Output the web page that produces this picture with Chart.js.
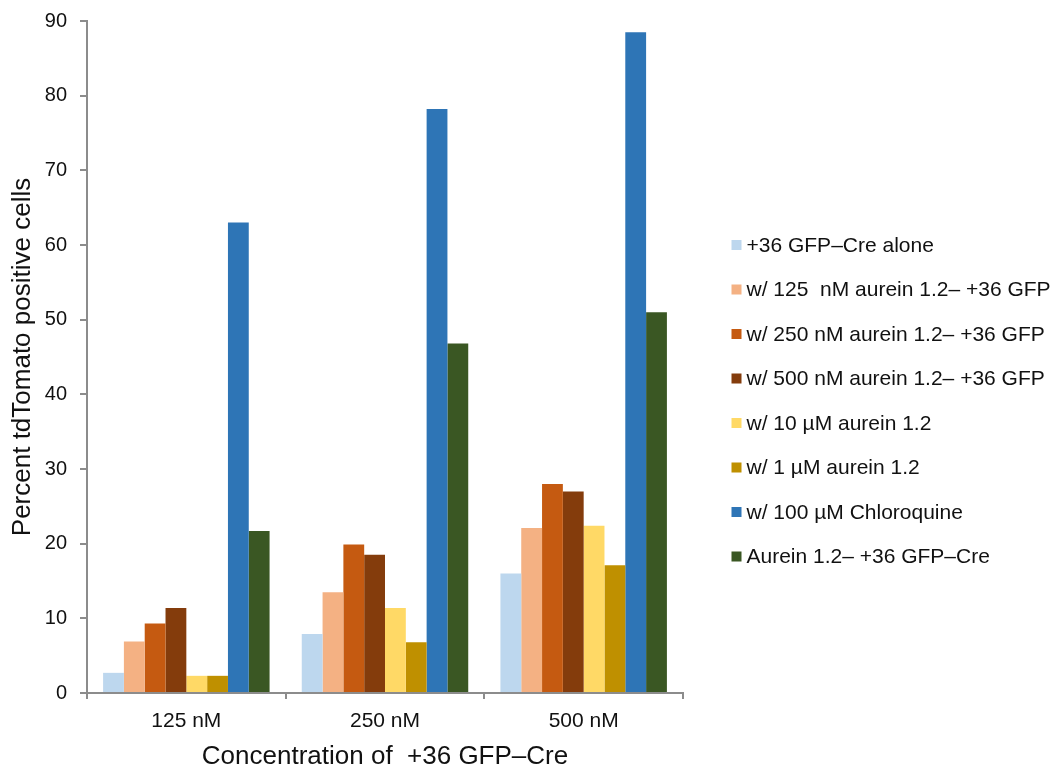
<!DOCTYPE html>
<html>
<head>
<meta charset="utf-8">
<script src="https://cdn.jsdelivr.net/npm/chart.js@4.4.1/dist/chart.umd.min.js"></script>
<style>
  html, body { margin: 0; padding: 0; background: #ffffff; }
  #wrap { width: 1052px; height: 770px; position: relative; }
</style>
</head>
<body>
<div id="wrap"><canvas id="chart"></canvas></div>
<script>
// Categories on the x axis
const categories = ['125 nM', '250 nM', '500 nM'];

// Percent tdTomato positive cells per treatment
const gfpCreAlone      = [2.7, 7.9, 16.0];
const aurein125nM      = [6.9, 13.5, 22.1];
const aurein250nM      = [9.3, 19.9, 28.0];
const aurein500nM      = [11.4, 18.5, 27.0];
const aurein10uM       = [2.3, 11.4, 22.4];
const aurein1uM        = [2.3, 6.8, 17.1];
const chloroquine100uM = [63.0, 78.2, 88.5];
const aureinFusion     = [21.7, 46.8, 51.0];

const seriesLabels = [
  '+36 GFP\u2013Cre alone',
  'w/ 125  nM aurein 1.2\u2013 +36 GFP',
  'w/ 250 nM aurein 1.2\u2013 +36 GFP',
  'w/ 500 nM aurein 1.2\u2013 +36 GFP',
  'w/ 10 \u00b5M aurein 1.2',
  'w/ 1 \u00b5M aurein 1.2',
  'w/ 100 \u00b5M Chloroquine',
  'Aurein 1.2\u2013 +36 GFP\u2013Cre'
];
const seriesValues = [gfpCreAlone, aurein125nM, aurein250nM, aurein500nM,
                      aurein10uM, aurein1uM, chloroquine100uM, aureinFusion];
const seriesColors = ['#bdd7ee', '#f4b183', '#c55a11', '#843c0c',
                      '#ffd966', '#bf9000', '#2e75b6', '#3a5723'];

// Y tick values
const yTicks = [0, 10, 20, 30, 40, 50, 60, 70, 80, 90];

const axisGray = '#8c8c8c';
const fontFamily = '"Liberation Sans", Arial, Helvetica, sans-serif';

// Legend drawn to the right of the plot, one swatch per dataset
const sideLegend = {
  id: 'sideLegend',
  afterDraw(chart) {
    const ctx = chart.ctx;
    const area = chart.chartArea;
    const boxX = area.right + 48.5;
    const textX = boxX + 15;
    ctx.save();
    ctx.font = '21px ' + fontFamily;
    ctx.textBaseline = 'middle';
    ctx.textAlign = 'left';
    chart.data.datasets.forEach((ds, i) => {
      const cy = 245 + i * 44.5;
      ctx.fillStyle = ds.backgroundColor;
      ctx.fillRect(boxX, cy - 5, 10, 10);
      ctx.fillStyle = '#111111';
      ctx.fillText(ds.label, textX, cy + 1);
    });
    ctx.restore();
  }
};

new Chart(document.getElementById('chart'), {
  type: 'bar',
  data: {
    labels: categories,
    datasets: seriesLabels.map((label, i) => ({
      label: label,
      data: seriesValues[i],
      backgroundColor: seriesColors[i],
      borderWidth: 0,
      categoryPercentage: 0.838,
      barPercentage: 1.0
    }))
  },
  options: {
    responsive: true,
    maintainAspectRatio: false,
    animation: false,
    layout: { padding: { top: 21, right: 369, bottom: 0, left: 0 } },
    plugins: {
      legend: { display: false },
      tooltip: { enabled: false }
    },
    scales: {
      x: {
        grid: {
          display: true,
          drawOnChartArea: false,
          drawTicks: true,
          tickLength: 6,
          color: axisGray,
          lineWidth: 2,
          offset: true
        },
        border: { display: true, color: axisGray, width: 2 },
        ticks: {
          color: '#111111',
          padding: 10,
          font: { family: fontFamily, size: 21 }
        },
        title: {
          display: true,
          text: 'Concentration of  +36 GFP\u2013Cre',
          color: '#111111',
          font: { family: fontFamily, size: 26, lineHeight: 1 },
          padding: { top: 0, bottom: 0 }
        },
        afterFit(scale) { scale.height = 77; }
      },
      y: {
        min: 0,
        max: 90,
        afterBuildTicks(scale) { scale.ticks = yTicks.map(v => ({ value: v })); },
        grid: {
          display: true,
          drawOnChartArea: false,
          drawTicks: true,
          tickLength: 7,
          color: axisGray,
          lineWidth: 2
        },
        border: { display: true, color: axisGray, width: 2 },
        ticks: {
          color: '#111111',
          padding: 13,
          font: { family: fontFamily, size: 20 }
        },
        title: {
          display: true,
          text: 'Percent tdTomato positive cells',
          color: '#111111',
          font: { family: fontFamily, size: 26, lineHeight: 1 },
          padding: { top: 10, bottom: 0 }
        },
        afterFit(scale) {
          scale.width = 87;
          scale.paddingTop = 0;
          scale.paddingBottom = 0;
        }
      }
    }
  },
  plugins: [sideLegend]
});
</script>
</body>
</html>
